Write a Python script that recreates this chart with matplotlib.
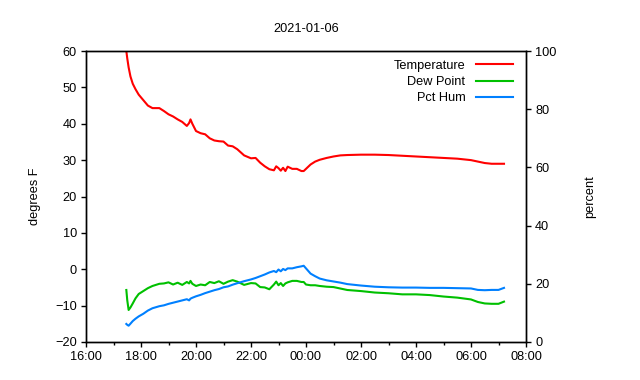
import matplotlib
matplotlib.use("Agg")
import matplotlib.pyplot as plt
from matplotlib.ticker import MultipleLocator

plt.rcParams['font.family'] = ['Liberation Sans', 'DejaVu Sans']
plt.rcParams['font.size'] = 9.2

# time of each reading (HH:MM, evening of 2021-01-06 into the next morning)
times = ["17:28", "17:30", "17:33", "17:37", "17:42", "17:48", "17:55", "18:05", "18:15", "18:25",
         "18:40", "18:50", "19:00", "19:10", "19:20", "19:30", "19:40", "19:45", "19:48", "19:52",
         "20:00", "20:10", "20:20", "20:30", "20:40", "20:50", "21:00", "21:10", "21:20", "21:30",
         "21:45", "22:00", "22:10", "22:20", "22:30", "22:40", "22:50", "22:55", "23:00", "23:05",
         "23:10", "23:15", "23:20", "23:30", "23:40", "23:50", "23:55", "00:00", "00:10", "00:20",
         "00:30", "00:45", "01:00", "01:15", "01:30", "02:00", "02:30", "03:00", "03:30", "04:00",
         "04:30", "05:00", "05:30", "06:00", "06:15", "06:30", "06:45", "07:00", "07:12"]

temperature = [60.0, 58.0, 55.5, 53.0, 51.0, 49.5, 48.0, 46.5, 45.0, 44.3,
               44.3, 43.5, 42.6, 42.0, 41.2, 40.5, 39.4, 40.2, 41.2, 40.0,
               38.0, 37.4, 37.1, 36.0, 35.4, 35.2, 35.1, 34.0, 33.8, 33.0,
               31.3, 30.5, 30.6, 29.3, 28.3, 27.5, 27.2, 28.3, 27.8, 27.1,
               27.9, 27.0, 28.2, 27.6, 27.6, 27.0, 27.0, 27.6, 28.8, 29.6,
               30.1, 30.6, 31.0, 31.3, 31.4, 31.5, 31.5, 31.4, 31.2, 31.0,
               30.8, 30.6, 30.4, 30.0, 29.6, 29.2, 29.0, 29.0, 29.0]

dew_point = [-5.7, -8.5, -11.2, -10.5, -9.4, -8.0, -6.8, -6.0, -5.2, -4.6,
             -4.0, -3.9, -3.6, -4.2, -3.7, -4.3, -3.5, -3.9, -3.2, -4.0,
             -4.6, -4.2, -4.4, -3.5, -3.8, -3.3, -4.0, -3.4, -3.0, -3.4,
             -4.3, -3.8, -3.9, -4.9, -5.0, -5.5, -4.2, -3.4, -4.4, -3.8,
             -4.6, -3.9, -3.6, -3.2, -3.2, -3.5, -3.5, -4.2, -4.4, -4.4,
             -4.6, -4.8, -4.9, -5.3, -5.7, -6.0, -6.4, -6.6, -6.9, -6.9,
             -7.1, -7.5, -7.8, -8.3, -9.0, -9.4, -9.5, -9.5, -8.9]

humidity = [6.2, 5.9, 5.6, 6.3, 7.2, 8.0, 8.8, 9.7, 10.8, 11.6,
            12.3, 12.6, 13.1, 13.5, 13.9, 14.3, 14.7, 14.3, 14.9, 15.2,
            15.7, 16.2, 16.8, 17.3, 17.8, 18.2, 18.8, 19.1, 19.7, 20.2,
            20.9, 21.5, 22.0, 22.6, 23.2, 23.9, 24.4, 24.0, 24.9, 24.3,
            25.1, 24.7, 25.3, 25.3, 25.7, 26.0, 26.2, 25.3, 23.5, 22.6,
            21.8, 21.2, 20.8, 20.4, 19.9, 19.4, 19.0, 18.8, 18.7, 18.7,
            18.6, 18.6, 18.5, 18.4, 17.9, 17.8, 17.9, 17.9, 18.6]

xtick_labels = ["16:00", "18:00", "20:00", "22:00", "00:00", "02:00", "04:00", "06:00", "08:00"]


def to_hours(s):
    h, m = map(int, s.split(":"))
    if h < 12:  # after midnight
        h += 24
    return h + m / 60.0


x = [to_hours(t) for t in times]

fig = plt.figure(figsize=(6.4, 3.8), dpi=100)
ax = fig.add_axes([86 / 640, 38 / 380, 440 / 640, 291 / 380])
ax2 = ax.twinx()

l1, = ax.plot(x, temperature, color='#ff0000', lw=1.5, label="Temperature")
l2, = ax.plot(x, dew_point, color='#00c000', lw=1.5, label="Dew Point")
l3, = ax2.plot(x, humidity, color='#0080ff', lw=1.5, label="Pct Hum")

ax.set_xlim(16, 32)
ax.set_ylim(-20, 60)
ax2.set_ylim(0, 100)

ax.set_xticks([16 + 2 * i for i in range(len(xtick_labels))])
ax.set_xticklabels(xtick_labels)
ax.xaxis.set_minor_locator(MultipleLocator(1))
ax.yaxis.set_major_locator(MultipleLocator(10))
ax2.yaxis.set_major_locator(MultipleLocator(20))

for a in (ax, ax2):
    for sp in a.spines.values():
        sp.set_linewidth(1.0)
    a.tick_params(which='major', length=3.5, width=1.0, direction='out', pad=3)
    a.tick_params(which='minor', length=2, width=1.0, direction='out')

ax.set_ylabel("degrees F", labelpad=10)
ax2.set_ylabel("percent", labelpad=20)
ax.set_title("2021-01-06", fontsize=9.2, pad=14)

ax.legend(handles=[l1, l2, l3], loc='upper right', frameon=False, markerfirst=False,
          handlelength=2.9, handletextpad=0.8, labelspacing=0.32,
          borderaxespad=0.3, bbox_to_anchor=(0.99, 1.0))

fig.savefig("out.png", dpi=100)
